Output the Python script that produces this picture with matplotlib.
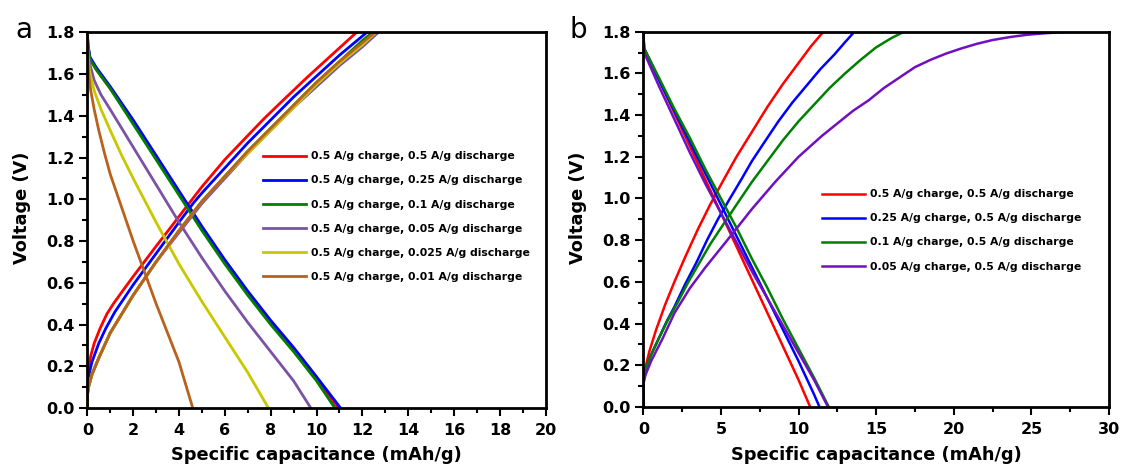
"""
Galvanostatic charge/discharge profiles at different current densities.

(a) fixed 0.5 A/g charge with varying discharge current
(b) varying charge current with fixed 0.5 A/g discharge
"""

import matplotlib.pyplot as plt
from matplotlib.ticker import MultipleLocator

plt.rcParams["font.family"] = ["DejaVu Sans"]

# ---- panel a: 0.5 A/g charge, discharge rate varied ----
labels_a = [
    "0.5 A/g charge, 0.5 A/g discharge",
    "0.5 A/g charge, 0.25 A/g discharge",
    "0.5 A/g charge, 0.1 A/g discharge",
    "0.5 A/g charge, 0.05 A/g discharge",
    "0.5 A/g charge, 0.025 A/g discharge",
    "0.5 A/g charge, 0.01 A/g discharge",
]
colors_a = ["#ff0000", "#0000ff", "#008000", "#7b52a6", "#c8c800", "#b8621b"]

# charge branches (capacity mAh/g, voltage V)
cap_grid_a = [0, 0, 0.05, 0.2, 0.5, 1, 1.5, 2, 3, 4, 5, 6, 7, 8, 9, 10, 11, 12]
chg_a_x = [
    [0, 0, 0.05, 0.15, 0.3, 0.55, 0.85, 1.14, 1.6, 2, 2.45, 3, 3.6, 4.33, 5, 6, 7,
     7.7, 8.5, 9.6, 10.5, 11.75],
    [0, 0, 0.05, 0.2, 0.5, 0.8, 1.2, 2, 3, 4, 4.65, 5, 6, 7, 8, 9, 10, 11, 12.2],
    cap_grid_a + [12.45],
    cap_grid_a + [12.7],
    cap_grid_a + [12.6],
    cap_grid_a + [12.55],
]
chg_a_v = [
    [0, 0.13, 0.19, 0.25, 0.31, 0.38, 0.45, 0.5, 0.57, 0.63, 0.695, 0.775, 0.86,
     0.965, 1.06, 1.19, 1.305, 1.385, 1.47, 1.585, 1.675, 1.8],
    [0, 0.1, 0.15, 0.22, 0.31, 0.38, 0.46, 0.59, 0.74, 0.89, 0.985, 1.03, 1.15, 1.27,
     1.38, 1.49, 1.59, 1.69, 1.8],
    [0, 0.06, 0.1, 0.16, 0.24, 0.36, 0.45, 0.54, 0.7, 0.85, 0.99, 1.11, 1.23, 1.34, 1.45, 1.56, 1.66, 1.76, 1.8],
    [0, 0.06, 0.1, 0.16, 0.24, 0.36, 0.45, 0.54, 0.7, 0.84, 0.98, 1.1, 1.22, 1.33, 1.44, 1.54, 1.64, 1.73, 1.8],
    [0, 0.06, 0.1, 0.16, 0.24, 0.36, 0.45, 0.54, 0.7, 0.85, 0.99, 1.11, 1.22, 1.33, 1.44, 1.55, 1.65, 1.74, 1.8],
    [0, 0.06, 0.1, 0.16, 0.24, 0.36, 0.45, 0.54, 0.7, 0.85, 0.99, 1.11, 1.23, 1.34, 1.45, 1.56, 1.66, 1.75, 1.8],
]

# discharge branches
dis_a_x = [
    [0, 0.03, 0.12, 0.4, 1, 2, 3, 4, 5, 6, 7, 8, 9, 10, 10.95],
    [0, 0.03, 0.12, 0.4, 1, 2, 3, 4, 5, 6, 7, 8, 9, 10, 11.05],
    [0, 0.03, 0.12, 0.4, 1, 2, 3, 4, 5, 6, 7, 8, 9, 10, 10.8],
    [0, 0.03, 0.1, 0.3, 0.6, 1, 2, 3, 4, 5, 6, 7, 8, 9, 9.75],
    [0, 0.03, 0.1, 0.3, 0.6, 1, 1.5, 2, 3, 4, 5, 6, 7, 7.9],
    [0, 0.02, 0.06, 0.15, 0.3, 0.5, 0.75, 1, 1.5, 2, 2.5, 3, 3.5, 4, 4.6],
]
dis_a_v = [
    [1.8, 1.73, 1.67, 1.62, 1.53, 1.37, 1.2, 1.03, 0.86, 0.7, 0.55, 0.41, 0.28, 0.14, 0],
    [1.8, 1.74, 1.68, 1.63, 1.54, 1.38, 1.21, 1.04, 0.87, 0.71, 0.56, 0.42, 0.29, 0.15, 0],
    [1.8, 1.73, 1.67, 1.62, 1.53, 1.36, 1.19, 1.02, 0.85, 0.69, 0.54, 0.4, 0.27, 0.13, 0],
    [1.8, 1.7, 1.65, 1.57, 1.5, 1.43, 1.25, 1.07, 0.89, 0.72, 0.56, 0.41, 0.27, 0.13, 0],
    [1.8, 1.68, 1.61, 1.52, 1.43, 1.33, 1.21, 1.1, 0.89, 0.69, 0.51, 0.34, 0.17, 0],
    [1.8, 1.68, 1.6, 1.52, 1.43, 1.33, 1.22, 1.12, 0.96, 0.8, 0.65, 0.5, 0.36, 0.22, 0],
]

# ---- panel b: charge rate varied, 0.5 A/g discharge ----
labels_b = [
    "0.5 A/g charge, 0.5 A/g discharge",
    "0.25 A/g charge, 0.5 A/g discharge",
    "0.1 A/g charge, 0.5 A/g discharge",
    "0.05 A/g charge, 0.5 A/g discharge",
]
colors_b = ["#ff0000", "#0000ff", "#008000", "#7010c0"]

chg_b_x = [
    [0, 0, 0.05, 0.17, 0.4, 0.82, 1.4, 2.0, 2.7, 3.5, 4.3, 5.1, 6.0, 7.0, 8.0, 9.0,
     10.0, 10.8, 11.6],
    [0, 0, 0.05, 0.2, 0.5, 1, 1.5, 2, 2.7, 3.4, 4.1, 4.8, 5.5, 6.3, 7.0, 7.8, 8.7,
     9.6, 10.5, 11.4, 12.3, 13.0, 13.6],
    [0, 0, 0.05, 0.2, 0.5, 1, 1.6, 2.2, 2.9, 3.6, 4.3, 5.1, 6.0, 7.0, 8.0, 9.0, 10.0,
     11.0, 12.0, 13.0, 14.0, 15.0, 16.0, 16.8],
    [0, 0, 0.05, 0.17, 0.5, 1.25, 2, 3, 4, 5.3, 7, 8.5, 10, 11.5, 12.5, 13.5, 14.5,
     15.5, 16.5, 17.5, 18.5, 19.5, 20.5, 21.5, 22.5, 23.6, 24.7, 25.8, 26.8, 28.2],
]
chg_b_v = [
    [0, 0.1, 0.15, 0.2, 0.27, 0.37, 0.49, 0.6, 0.72, 0.85, 0.97, 1.08, 1.2, 1.32,
     1.44, 1.55, 1.65, 1.73, 1.8],
    [0, 0.1, 0.14, 0.19, 0.25, 0.33, 0.41, 0.48, 0.59, 0.69, 0.8, 0.9, 0.99, 1.09,
     1.18, 1.27, 1.37, 1.46, 1.54, 1.62, 1.69, 1.75, 1.8],
    [0, 0.1, 0.14, 0.19, 0.25, 0.33, 0.42, 0.5, 0.6, 0.69, 0.78, 0.87, 0.97, 1.08,
     1.18, 1.28, 1.37, 1.45, 1.53, 1.6, 1.665, 1.725, 1.77, 1.8],
    [0, 0.1, 0.13, 0.16, 0.22, 0.33, 0.45, 0.57, 0.67, 0.79, 0.95, 1.08, 1.2, 1.3,
     1.36, 1.42, 1.47, 1.53, 1.58, 1.63, 1.665, 1.695, 1.72, 1.742, 1.76, 1.774,
     1.785, 1.792, 1.797, 1.8],
]

dis_b_x = [
    [0, 0.05, 1, 2, 3, 4, 5, 6, 7, 8, 9, 10, 10.75],
    [0, 0.05, 1, 2, 3, 4, 5, 6, 7, 8, 9, 10, 11, 11.35],
    [0, 0.05, 1, 2, 3, 4, 5, 6, 7, 8, 9, 10, 11, 11.95],
    [0, 0.05, 1, 2, 3, 4, 5, 6, 7, 8, 9, 10, 11, 11.9],
]
dis_b_v = [
    [1.8, 1.72, 1.57, 1.41, 1.25, 1.09, 0.93, 0.77, 0.61, 0.45, 0.29, 0.13, 0],
    [1.8, 1.72, 1.57, 1.42, 1.27, 1.12, 0.97, 0.82, 0.67, 0.52, 0.37, 0.22, 0.06, 0],
    [1.8, 1.72, 1.58, 1.43, 1.29, 1.14, 1.0, 0.86, 0.71, 0.57, 0.42, 0.28, 0.14, 0],
    [1.8, 1.7, 1.54, 1.38, 1.22, 1.07, 0.93, 0.79, 0.65, 0.52, 0.39, 0.26, 0.13, 0],
]


def style_axes(ax, xmax, xmajor, xminor):
    ax.set_xlim(0, xmax)
    ax.set_ylim(0, 1.8)
    ax.xaxis.set_major_locator(MultipleLocator(xmajor))
    ax.xaxis.set_minor_locator(MultipleLocator(xminor))
    ax.yaxis.set_major_locator(MultipleLocator(0.2))
    ax.yaxis.set_minor_locator(MultipleLocator(0.1))
    ax.yaxis.set_major_formatter(lambda v, pos: f"{v:.1f}")
    ax.tick_params(which="both", direction="out", width=1.5, top=False, right=False)
    ax.tick_params(which="major", length=6, labelsize=11.5)
    ax.tick_params(which="minor", length=3.5)
    ax.tick_params(axis="x", pad=4.5)
    for lab in ax.get_xticklabels() + ax.get_yticklabels():
        lab.set_fontweight("bold")
    for sp in ax.spines.values():
        sp.set_linewidth(2)
    ax.set_xlabel("Specific capacitance (mAh/g)", fontsize=12.75, fontweight="bold")
    ax.set_ylabel("Voltage (V)", fontsize=12.75, fontweight="bold")


fig = plt.figure(figsize=(11.21, 4.68), dpi=100)
ax_a = fig.add_axes([0.0779, 0.1282, 0.4089, 0.8028])
ax_b = fig.add_axes([0.5739, 0.1303, 0.4154, 0.8020])

for cx, cv, dx, dv, c, lab in zip(chg_a_x, chg_a_v, dis_a_x, dis_a_v, colors_a, labels_a):
    ax_a.plot(cx, cv, color=c, lw=2.0, label=lab)
    ax_a.plot(dx, dv, color=c, lw=2.0)

for cx, cv, dx, dv, c, lab in zip(chg_b_x, chg_b_v, dis_b_x, dis_b_v, colors_b, labels_b):
    ax_b.plot(cx, cv, color=c, lw=1.8, label=lab)
    ax_b.plot(dx, dv, color=c, lw=1.8)

style_axes(ax_a, 20, 2, 1)
style_axes(ax_b, 30, 5, 2.5)
ax_a.yaxis.set_label_coords(-0.123, 0.532)
ax_b.yaxis.set_label_coords(-0.121, 0.532)
ax_a.xaxis.set_label_coords(0.5, -0.101)
ax_b.xaxis.set_label_coords(0.5, -0.104)

leg_kw = dict(frameon=False, loc="upper left", handlelength=4.0, handletextpad=0.45,
              labelspacing=1.3, borderpad=0, borderaxespad=0,
              prop={"size": 7.8, "weight": "bold"})
ax_a.legend(bbox_to_anchor=(0.383, 0.683), **leg_kw)
ax_b.legend(bbox_to_anchor=(0.384, 0.58), **leg_kw)

fig.text(0.014, 0.935, "a", fontsize=20, va="center")
fig.text(0.508, 0.935, "b", fontsize=20, va="center")

fig.savefig("out.png", dpi=100)
